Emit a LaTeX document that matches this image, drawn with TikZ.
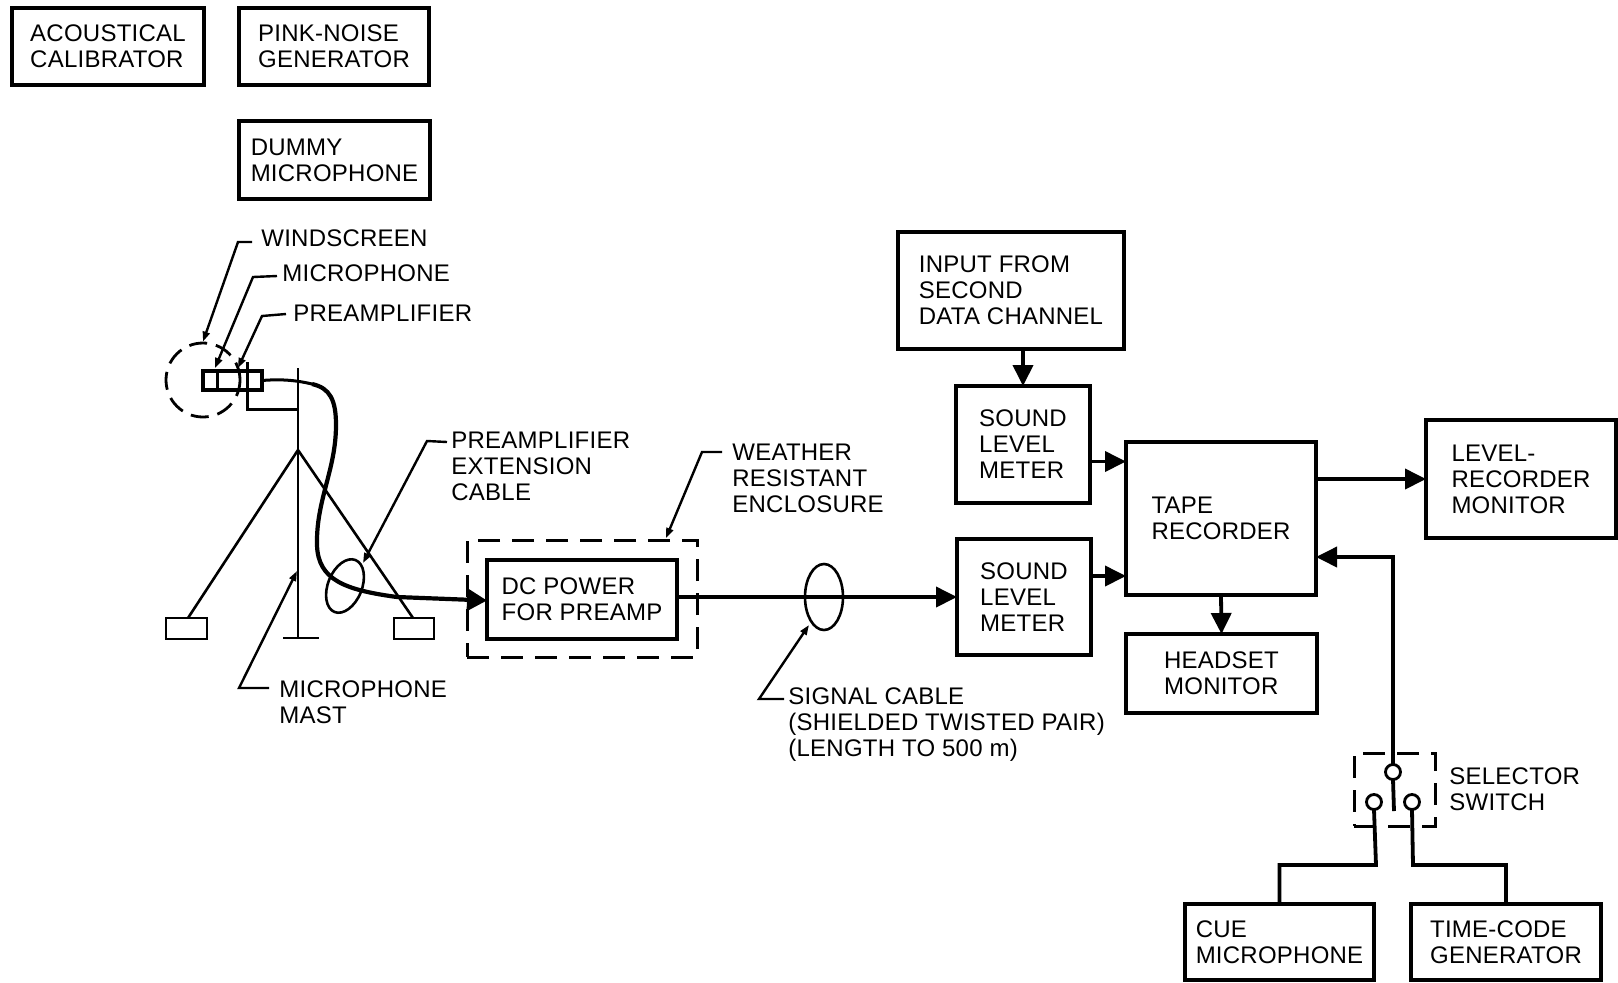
\documentclass[tikz,border=0pt]{standalone}
\usepackage{fontspec}
\setmainfont[LetterSpace=1]{Liberation Sans}
\usetikzlibrary{arrows.meta,shapes.geometric}
\tikzset{
  box/.style={draw,line width=1.6pt,inner sep=0pt,outer sep=0pt,align=left,font=\fontsize{12}{13}\selectfont},
  lbl/.style={anchor=west,inner sep=0pt,align=left,font=\fontsize{12}{13}\selectfont},
  dashbox/.style={draw,line width=1.5pt,inner sep=0pt,outer sep=0pt,dash pattern=on 11pt off 6pt},
  leader/.style={line width=1.2pt,-{Triangle[length=5pt,width=3.5pt]}},
  wire/.style={line width=1.9pt},
  sigline/.style={line width=1.9pt,-{Triangle[length=10.5pt,width=10pt]}},
  contact/.style={draw,circle,fill=white,line width=1.4pt,minimum size=7.5pt,inner sep=0pt,outer sep=0pt},
  loopcable/.style={draw,ellipse,line width=1.3pt,inner sep=0pt,outer sep=0pt}
}
\begin{document}
\begin{tikzpicture}[x=0.5pt,y=-0.5pt]
\useasboundingbox (0,0) rectangle (1618,982);

\node[box,minimum width=96pt,minimum height=38.5pt] (calib) at (108,46.5) {ACOUSTICAL\\CALIBRATOR};
\node[box,minimum width=95pt,minimum height=38.5pt] (pink) at (334,46.5) {PINK-NOISE\\GENERATOR};
\node[box,minimum width=95.5pt,minimum height=39pt] (dummy) at (334.5,160) {DUMMY\\MICROPHONE};
\node[box,minimum width=113pt,minimum height=58.5pt] (input) at (1011,290.5) {INPUT FROM\\SECOND\\DATA CHANNEL};
\node[box,minimum width=67pt,minimum height=58.5pt] (slmone) at (1023,444.5) {SOUND\\LEVEL\\METER};
\node[box,minimum width=67pt,minimum height=58pt] (slmtwo) at (1024,597) {SOUND\\LEVEL\\METER};
\node[box,minimum width=95pt,minimum height=76.5pt] (tape) at (1221,518.5) {TAPE\\RECORDER};
\node[box,minimum width=95pt,minimum height=59pt] (level) at (1521,479) {LEVEL-\\RECORDER\\MONITOR};
\node[box,minimum width=95.5pt,minimum height=39.5pt] (headset) at (1221.5,673.5) {HEADSET\\MONITOR};
\node[box,minimum width=94.5pt,minimum height=38pt] (cue) at (1279.5,942) {CUE\\MICROPHONE};
\node[box,minimum width=95pt,minimum height=38pt] (timecode) at (1506,942) {TIME-CODE\\GENERATOR};

\node[dashbox,minimum width=115pt,minimum height=58.5pt] (enclosure) at (582,598.5) {};
\node[box,minimum width=95pt,minimum height=39.5pt] (dc) at (582,599.5) {DC POWER\\FOR PREAMP};
\node[dashbox,minimum width=40.5pt,minimum height=36.5pt] (switchbox) at (1394.5,789.5) {};

\node[lbl] (lblwind) at (261,238) {WINDSCREEN};
\node[lbl] (lblmic) at (282,273) {MICROPHONE};
\node[lbl] (lblpre) at (293,313) {PREAMPLIFIER};
\node[lbl] (lblext) at (451,466) {PREAMPLIFIER\\EXTENSION\\CABLE};
\node[lbl] (lblweather) at (732,478) {WEATHER\\RESISTANT\\ENCLOSURE};
\node[lbl] (lblmast) at (279,702) {MICROPHONE\\MAST};
\node[lbl] (lblsignal) at (788,725) {SIGNAL CABLE\\(SHIELDED TWISTED PAIR)\\(LENGTH TO 500 m)};
\node[lbl] (lblswitch) at (1449,789) {SELECTOR\\SWITCH};

% microphone on its mast
\node[draw,circle,line width=1.4pt,minimum size=37pt,inner sep=0pt,dash pattern=on 9pt off 4.5pt] (windscreen) at (203,380) {};
\node[draw,line width=1.7pt,minimum width=29.5pt,minimum height=9.5pt,inner sep=0pt,outer sep=0pt] (micbody) at (232.5,380.5) {};
\coordinate (micsplit) at (217,380.5);
\draw[line width=1.5pt] (micsplit |- micbody.north) -- (micsplit |- micbody.south);
\draw[line width=1.5pt] (247,362) -- (247,409) -- (298,409);
\coordinate (masttop) at (298,368);
\coordinate (mastfoot) at (298,638);
\coordinate (apex) at (298,450);
\draw[line width=1.3pt] (masttop) -- (mastfoot);
\draw[line width=1.3pt] (283,638) -- (319,638);

\node[draw,line width=1.4pt,minimum width=20.5pt,minimum height=10.5pt,inner sep=0pt,outer sep=0pt] (footleft) at (186.5,628.5) {};
\node[draw,line width=1.4pt,minimum width=20pt,minimum height=10.5pt,inner sep=0pt,outer sep=0pt] (footright) at (414,628.5) {};
\draw[line width=1.3pt] (apex) -- (188,618);
\draw[line width=1.3pt] (apex) -- (413,618);

% cables
\draw[line width=1.5pt] (micbody.east) .. controls (280,379) and (295,380) .. (312,384);
\draw[line width=2.1pt] (312,384) .. controls (330,388) and (336,400) .. (336,425)
  .. controls (336,470) and (316,500) .. (317,545)
  .. controls (318,580) and (345,590) .. (397,597);
\draw[line width=2.1pt,-{Triangle[length=10pt,width=11pt]}] (397,597) -- ([yshift=-0.5pt]dc.west);
\node[loopcable,minimum width=28pt,minimum height=17pt,rotate=68] (extloop) at (345,586) {};

\draw[sigline] (dc.east |- slmtwo.west) -- (slmtwo.west);
\node[loopcable,minimum width=19pt,minimum height=33pt] (sigloop) at (824,597) {};

\draw[sigline] (input.south -| slmone.north) -- (slmone.north);
\draw[sigline] ([yshift=-8.5pt]slmone.east) -- ([yshift=-8.5pt]slmone.east -| tape.west);
\draw[sigline] ([yshift=10.5pt]slmtwo.east) -- ([yshift=10.5pt]slmtwo.east -| tape.west);
\draw[sigline] (level.west -| tape.east) -- (level.west);
\draw[sigline] (tape.south) -- (headset.north);

% selector switch
\node[contact] (swcom) at (1393,772) {};
\node[contact] (swleft) at (1374,802) {};
\node[contact] (swright) at (1412,802) {};
\draw[sigline] (swcom.north) -- (1393,557) -- (tape.east |- 1393,557);
\draw[wire] (swcom.south) -- (1394,811);
\draw[wire] (swleft.south) -- (1376,865) -- (cue.north |- 1376,865) -- (cue.north);
\draw[wire] (swright.south) -- (1413,865) -- (timecode.north |- 1413,865) -- (timecode.north);

% label leaders
\draw[leader] (lblwind.west) ++(-9,4) -- (238,242) -- (windscreen.north);
\draw[leader] (lblmic.west) ++(-5,3) -- (253,277) -- (215,368);
\draw[leader] (lblpre.west) ++(-7,1) -- (262,316) -- (238,368);
\draw[leader] (lblext.west) ++(-4,-24) -- (427,441) -- (363,563);
\draw[leader] (lblweather.west) ++(-10,-26) -- (702,452) -- (666,538);
\draw[leader] (lblmast.west) ++(-10,-14) -- (239,688) -- (297,571);
\draw[leader] (lblsignal.west) ++(-4,-26) -- (759,699) -- (809,625);
\end{tikzpicture}
\end{document}
